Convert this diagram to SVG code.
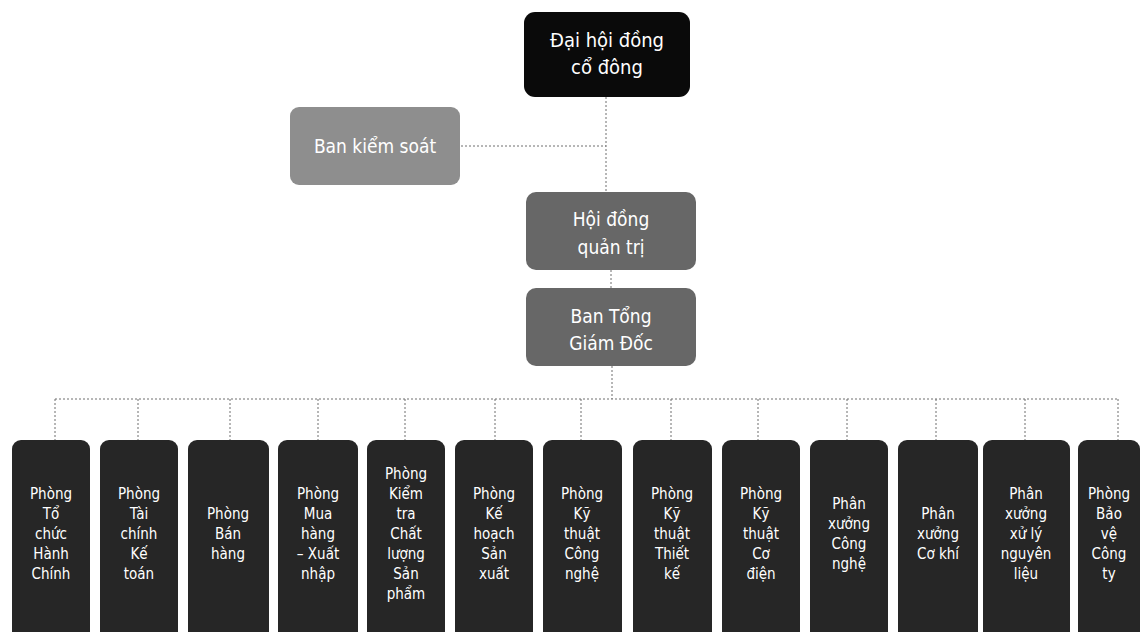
<svg xmlns="http://www.w3.org/2000/svg" width="1143" height="632" viewBox="0 0 1143 632">
<style>
.t{font-family:"DejaVu Sans Condensed","DejaVu Sans",sans-serif;fill:#fff;text-anchor:middle}
.big{font-size:20px}
.mid{font-size:19px}
.sm{font-size:15px}
.con{stroke:#6e6e6e;stroke-width:1;stroke-dasharray:2 2;fill:none}
.dept{fill:#262626}
.grey{fill:#676767}
</style>
<rect width="1143" height="632" fill="#fff"/>
<g id="connectors">
<line class="con" x1="606" y1="97" x2="606" y2="192"/>
<line class="con" x1="461" y1="146" x2="606" y2="146"/>
<line class="con" x1="611" y1="270" x2="611" y2="288"/>
<line class="con" x1="612" y1="366" x2="612" y2="399"/>
<line class="con" x1="55" y1="399" x2="1118" y2="399"/>
<path class="con" d="M55 399V440M138 399V440M230 399V440M318 399V440M405 399V440M495 399V440M581 399V440M671 399V440M758 399V440M847 399V440M936 399V440M1025 399V440M1118 399V440"/>
</g>
<g id="dhdcd">
<rect x="524" y="12" width="166" height="85" rx="11" fill="#0a0a0a"/>
<text class="t big" x="607" y="47">Đại hội đồng</text>
<text class="t big" x="607" y="74">cổ đông</text>
</g>
<g id="bks">
<rect x="290" y="107" width="170" height="78" rx="9" fill="#8e8e8e"/>
<text class="t mid" x="375" y="153" fill="#f0f0f0">Ban kiểm soát</text>
</g>
<g id="hdqt">
<rect class="grey" x="526" y="192" width="170" height="78" rx="10"/>
<text class="t mid" x="611" y="226">Hội đồng</text>
<text class="t mid" x="611" y="254">quản trị</text>
</g>
<g id="btgd">
<rect class="grey" x="526" y="288" width="170" height="78" rx="10"/>
<text class="t mid" x="611" y="323">Ban Tổng</text>
<text class="t mid" x="611" y="350">Giám Đốc</text>
</g>
<g id="d1"><rect class="dept" x="12" y="440" width="78" height="210" rx="9"/>
<text class="t sm" x="51" y="499">Phòng</text><text class="t sm" x="51" y="519">Tổ</text><text class="t sm" x="51" y="539">chức</text><text class="t sm" x="51" y="559">Hành</text><text class="t sm" x="51" y="579">Chính</text></g>
<g id="d2"><rect class="dept" x="100" y="440" width="78" height="210" rx="9"/>
<text class="t sm" x="139" y="499">Phòng</text><text class="t sm" x="139" y="519">Tài</text><text class="t sm" x="139" y="539">chính</text><text class="t sm" x="139" y="559">Kế</text><text class="t sm" x="139" y="579">toán</text></g>
<g id="d3"><rect class="dept" x="188" y="440" width="81" height="210" rx="9"/>
<text class="t sm" x="228" y="519">Phòng</text><text class="t sm" x="228" y="539">Bán</text><text class="t sm" x="228" y="559">hàng</text></g>
<g id="d4"><rect class="dept" x="278" y="440" width="80" height="210" rx="9"/>
<text class="t sm" x="318" y="499">Phòng</text><text class="t sm" x="318" y="519">Mua</text><text class="t sm" x="318" y="539">hàng</text><text class="t sm" x="318" y="559">– Xuất</text><text class="t sm" x="318" y="579">nhập</text></g>
<g id="d5"><rect class="dept" x="367" y="440" width="78" height="210" rx="9"/>
<text class="t sm" x="406" y="479">Phòng</text><text class="t sm" x="406" y="499">Kiểm</text><text class="t sm" x="406" y="519">tra</text><text class="t sm" x="406" y="539">Chất</text><text class="t sm" x="406" y="559">lượng</text><text class="t sm" x="406" y="579">Sản</text><text class="t sm" x="406" y="599">phẩm</text></g>
<g id="d6"><rect class="dept" x="455" y="440" width="78" height="210" rx="9"/>
<text class="t sm" x="494" y="499">Phòng</text><text class="t sm" x="494" y="519">Kế</text><text class="t sm" x="494" y="539">hoạch</text><text class="t sm" x="494" y="559">Sản</text><text class="t sm" x="494" y="579">xuất</text></g>
<g id="d7"><rect class="dept" x="543" y="440" width="79" height="210" rx="9"/>
<text class="t sm" x="582" y="499">Phòng</text><text class="t sm" x="582" y="519">Kỹ</text><text class="t sm" x="582" y="539">thuật</text><text class="t sm" x="582" y="559">Công</text><text class="t sm" x="582" y="579">nghệ</text></g>
<g id="d8"><rect class="dept" x="633" y="440" width="79" height="210" rx="9"/>
<text class="t sm" x="672" y="499">Phòng</text><text class="t sm" x="672" y="519">Kỹ</text><text class="t sm" x="672" y="539">thuật</text><text class="t sm" x="672" y="559">Thiết</text><text class="t sm" x="672" y="579">kế</text></g>
<g id="d9"><rect class="dept" x="722" y="440" width="78" height="210" rx="9"/>
<text class="t sm" x="761" y="499">Phòng</text><text class="t sm" x="761" y="519">Kỹ</text><text class="t sm" x="761" y="539">thuật</text><text class="t sm" x="761" y="559">Cơ</text><text class="t sm" x="761" y="579">điện</text></g>
<g id="d10"><rect class="dept" x="810" y="440" width="78" height="210" rx="9"/>
<text class="t sm" x="849" y="509">Phân</text><text class="t sm" x="849" y="529">xưởng</text><text class="t sm" x="849" y="549">Công</text><text class="t sm" x="849" y="569">nghệ</text></g>
<g id="d11"><rect class="dept" x="898" y="440" width="80" height="210" rx="9"/>
<text class="t sm" x="938" y="519">Phân</text><text class="t sm" x="938" y="539">xưởng</text><text class="t sm" x="938" y="559">Cơ khí</text></g>
<g id="d12"><rect class="dept" x="983" y="440" width="87" height="210" rx="9"/>
<text class="t sm" x="1026" y="499">Phân</text><text class="t sm" x="1026" y="519">xưởng</text><text class="t sm" x="1026" y="539">xử lý</text><text class="t sm" x="1026" y="559">nguyên</text><text class="t sm" x="1026" y="579">liệu</text></g>
<g id="d13"><rect class="dept" x="1078" y="440" width="62" height="210" rx="9"/>
<text class="t sm" x="1109" y="499">Phòng</text><text class="t sm" x="1109" y="519">Bảo</text><text class="t sm" x="1109" y="539">vệ</text><text class="t sm" x="1109" y="559">Công</text><text class="t sm" x="1109" y="579">ty</text></g>
</svg>
